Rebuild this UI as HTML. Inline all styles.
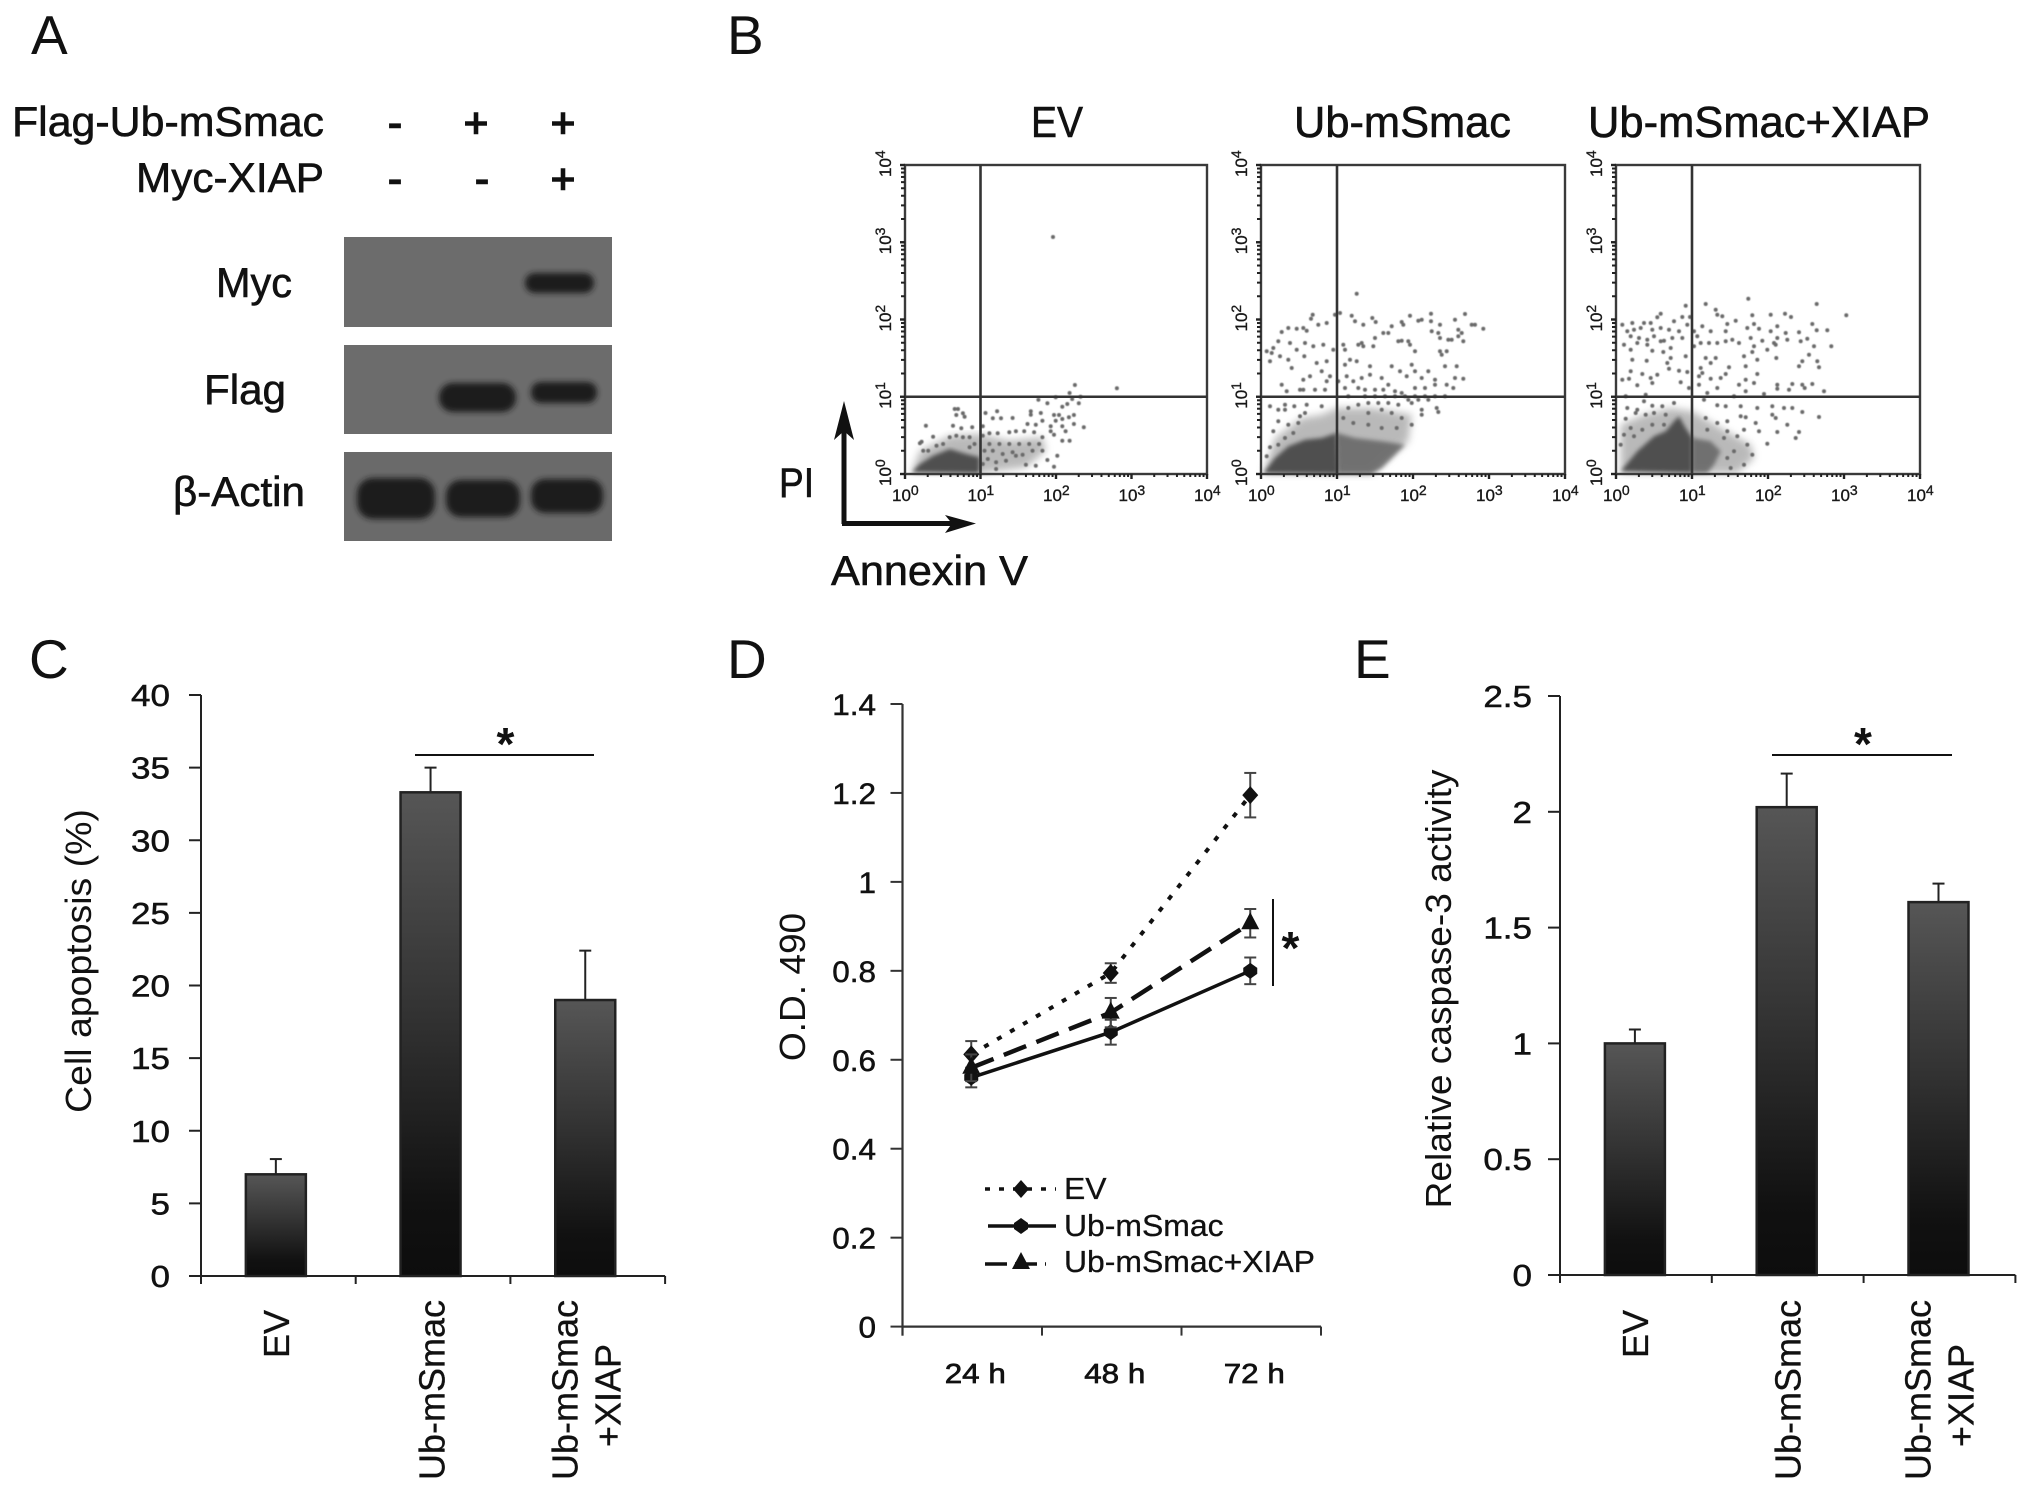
<!DOCTYPE html>
<html lang="en">
<head>
<meta charset="utf-8">
<title>Ub-mSmac apoptosis figure</title>
<style>
html,body{margin:0;padding:0;background:#fff;}
svg{display:block;font-family:"Liberation Sans",Arial,sans-serif;}
text{fill:#111;}
.hv{stroke:#111;stroke-width:.6px;}
.pm{stroke:#111;stroke-width:1.6px;}
</style>
</head>
<body>
<svg id="fig" xmlns="http://www.w3.org/2000/svg" width="2031" height="1493" viewBox="0 0 2031 1493">
<defs>
<linearGradient id="barGrad" x1="0" y1="0" x2="0" y2="1">
<stop offset="0" stop-color="#565656"/>
<stop offset="0.45" stop-color="#333333"/>
<stop offset="0.85" stop-color="#111111"/>
<stop offset="1" stop-color="#0d0d0d"/>
</linearGradient>
<filter id="blurBand" x="-20%" y="-40%" width="140%" height="180%"><feGaussianBlur stdDeviation="2.8"/></filter>
<filter id="blurSoft" x="-10%" y="-10%" width="120%" height="120%"><feGaussianBlur stdDeviation="2.2"/></filter>
<filter id="blurMid" x="-10%" y="-10%" width="120%" height="120%"><feGaussianBlur stdDeviation="4"/></filter>
<filter id="blurDot" x="-5%" y="-5%" width="110%" height="110%"><feGaussianBlur stdDeviation="0.5"/></filter>
</defs>
<rect x="0" y="0" width="2031" height="1493" fill="#fff"/>

<g>
<text x="31" y="54" font-size="55">A</text>
<text class="hv" x="12" y="136" font-size="42" textLength="312" lengthAdjust="spacingAndGlyphs">Flag-Ub-mSmac</text>
<text class="hv" x="136" y="192" font-size="42" textLength="188" lengthAdjust="spacingAndGlyphs">Myc-XIAP</text>
<text class="pm" x="395" y="137" font-size="42" text-anchor="middle">-</text>
<text class="pm" x="476" y="137" font-size="42" text-anchor="middle">+</text>
<text class="pm" x="563" y="137" font-size="42" text-anchor="middle">+</text>
<text class="pm" x="395" y="193" font-size="42" text-anchor="middle">-</text>
<text class="pm" x="482" y="193" font-size="42" text-anchor="middle">-</text>
<text class="pm" x="563" y="193" font-size="42" text-anchor="middle">+</text>
<text class="hv" x="216" y="297" font-size="42" textLength="76" lengthAdjust="spacingAndGlyphs">Myc</text>
<text class="hv" x="204" y="404" font-size="42" textLength="82" lengthAdjust="spacingAndGlyphs">Flag</text>
<text class="hv" x="173" y="506" font-size="42" textLength="132" lengthAdjust="spacingAndGlyphs">β-Actin</text>
<rect x="344" y="237" width="268" height="90" fill="#6c6c6c"/>
<rect x="344" y="345" width="268" height="89" fill="#6c6c6c"/>
<rect x="344" y="452" width="268" height="89" fill="#6a6a6a"/>
<g filter="url(#blurBand)" fill="#1a1a1a">
<rect x="525" y="273" width="69" height="20" rx="10"/>
<rect x="439" y="383" width="77" height="29" rx="14"/>
<rect x="531" y="382" width="66" height="21" rx="10"/>
<rect x="357" y="478" width="78" height="41" rx="16"/>
<rect x="446" y="480" width="74" height="37" rx="15"/>
<rect x="531" y="479" width="72" height="34" rx="14"/>
</g>
</g>

<g>
<text x="727" y="54" font-size="55">B</text>
<text class="hv" x="1031" y="137" font-size="44" textLength="52" lengthAdjust="spacingAndGlyphs">EV</text>
<text class="hv" x="1294" y="137" font-size="44" textLength="217" lengthAdjust="spacingAndGlyphs">Ub-mSmac</text>
<text class="hv" x="1588" y="137" font-size="44" textLength="342" lengthAdjust="spacingAndGlyphs">Ub-mSmac+XIAP</text>
<text class="hv" x="779" y="497" font-size="42" textLength="35" lengthAdjust="spacingAndGlyphs">PI</text>
<text class="hv" x="831" y="585" font-size="42" textLength="197" lengthAdjust="spacingAndGlyphs">Annexin V</text>
<path d="M844 524V420" stroke="#111" stroke-width="5" fill="none"/>
<path d="M844 401L854 440L844 431L834 440Z" fill="#111"/>
<path d="M842 523.5H955" stroke="#111" stroke-width="5" fill="none"/>
<path d="M976 523.5L945 515L952 523.5L945 533Z" fill="#111"/>
</g>

<g><text x="29" y="678" font-size="55">C</text></g>
<g><text x="727" y="678" font-size="55">D</text></g>
<g><text x="1354" y="678" font-size="55">E</text></g>
</svg>

<script>
// ---------- chart data ----------
const barCategories = ["EV", "Ub-mSmac", "Ub-mSmac+XIAP"];
const apoptosisValues = [7.0, 33.3, 19.0];
const apoptosisErrors = [1.05, 1.7, 3.4];
const apoptosisTicks = [0, 5, 10, 15, 20, 25, 30, 35, 40];
const caspaseValues = [1.0, 2.02, 1.61];
const caspaseErrors = [0.06, 0.145, 0.08];
const caspaseTicks = [0, 0.5, 1, 1.5, 2, 2.5];
const timeLabels = ["24 h", "48 h", "72 h"];
const odTicks = [0, 0.2, 0.4, 0.6, 0.8, 1, 1.2, 1.4];
const odEV = [0.612, 0.795, 1.195];
const odEVErr = [0.03, 0.022, 0.05];
const odUb = [0.56, 0.662, 0.80];
const odUbErr = [0.022, 0.028, 0.03];
const odXIAP = [0.582, 0.706, 0.907];
const odXIAPErr = [0.03, 0.033, 0.032];
const flowDecades = [0, 1, 2, 3, 4];

// Flow cytometry events in instrument channels [annexin, PI]
const flowEV = [[447,711],[513,267],[497,243],[640,257],[530,232],[455,230],[403,223],[430,212],[475,202],[490,210],[525,212],[505,225],[380,188],[380,178],[410,183],[325,168],[290,167],[265,167],[278,188],[243,183],[150,195],[160,195],[175,182],[180,172],[155,177],[63,145],[145,145],[170,137],[203,140],[235,143],[85,112],[50,97],[45,92],[450,177],[465,177],[475,165],[495,170],[510,177],[455,160],[415,160],[395,148],[370,150],[440,143],[475,143],[510,150],[540,140],[485,128],[440,128],[450,118],[475,100],[497,100],[415,110],[390,125],[360,128],[335,128],[315,125],[280,122],[255,122],[235,115],[405,90],[375,90],[345,90],[315,90],[285,90],[255,90],[415,70],[385,70],[355,58],[325,65],[295,60],[265,70],[240,70],[460,55],[430,42],[450,22],[395,25],[365,28],[335,55],[305,40],[275,35],[250,45],[235,30],[275,15],[195,110],[175,110],[155,115],[135,110],[115,90],[95,85],[70,70],[55,70],[195,80],[210,90]];
const flowUb = [[287,541],[612,480],[510,481],[447,475],[582,463],[155,478],[150,466],[82,438],[62,426],[107,436],[127,438],[137,430],[172,448],[197,453],[222,478],[237,483],[272,475],[282,458],[307,448],[334,468],[344,456],[392,443],[422,456],[427,448],[472,460],[482,463],[510,458],[537,448],[632,448],[642,448],[667,436],[592,433],[602,423],[512,428],[532,423],[537,408],[562,403],[572,403],[607,398],[592,413],[422,400],[412,398],[442,398],[447,388],[382,423],[367,423],[342,408],[337,383],[302,393],[292,388],[307,383],[247,388],[252,373],[217,373],[187,388],[157,383],[132,393],[107,373],[87,393],[52,398],[37,378],[17,368],[32,363],[27,338],[57,353],[82,343],[92,318],[130,353],[167,333],[197,338],[182,308],[127,283],[147,293],[207,293],[197,278],[62,268],[117,253],[127,253],[162,253],[192,253],[77,248],[252,328],[267,343],[287,338],[327,323],[257,293],[277,278],[302,288],[327,298],[362,288],[382,268],[392,323],[417,308],[452,328],[462,308],[502,308],[552,323],[587,323],[462,368],[537,368],[557,368],[542,358],[482,288],[522,283],[557,268],[582,288],[607,286],[577,258],[437,293],[402,248],[422,243],[462,258],[492,258],[522,268],[292,258],[312,253],[342,253],[367,253],[252,258],[232,278],[27,203],[52,193],[72,208],[100,203],[72,193],[137,208],[182,203],[117,173],[132,183],[52,158],[82,148],[112,153],[37,128],[72,108],[97,123],[27,80],[52,88],[17,53],[527,198],[532,186],[482,193],[452,213],[412,208],[482,178],[422,168],[452,148],[262,198],[292,208],[322,183],[362,193],[392,183],[247,168],[277,153],[322,148],[362,138],[407,138],[312,233],[342,233],[372,233],[402,233],[432,233],[462,233],[492,233],[522,233],[552,233],[262,233],[442,223],[472,223],[502,223],[382,213],[352,213],[322,213]];
const flowXIAP = [[397,526],[602,510],[209,505],[269,510],[691,476],[299,493],[304,478],[134,481],[124,470],[199,471],[222,471],[319,473],[359,460],[409,476],[464,478],[507,481],[525,471],[589,450],[414,450],[334,450],[174,458],[49,453],[19,448],[84,453],[104,453],[484,443],[429,436],[394,438],[602,431],[634,431],[549,425],[509,423],[464,428],[54,433],[74,438],[109,433],[134,438],[159,433],[189,428],[214,448],[234,428],[259,443],[284,428],[329,428],[34,428],[44,413],[69,408],[94,403],[114,413],[144,400],[169,408],[199,408],[244,413],[254,393],[279,393],[304,393],[329,398],[349,403],[369,393],[404,408],[439,400],[474,393],[484,408],[514,403],[554,398],[574,406],[594,383],[24,388],[64,393],[94,388],[134,398],[164,378],[234,383],[414,383],[454,373],[479,388],[579,358],[646,383],[109,370],[142,366],[44,373],[409,366],[384,353],[424,343],[481,348],[604,338],[559,338],[49,343],[92,340],[164,348],[154,333],[209,353],[269,348],[299,348],[549,323],[609,320],[284,333],[254,318],[389,323],[339,320],[329,300],[79,300],[159,316],[189,310],[214,306],[259,303],[44,308],[424,300],[19,283],[39,286],[104,288],[124,298],[109,273],[194,275],[284,286],[314,288],[249,293],[249,268],[389,283],[414,273],[369,268],[64,266],[219,258],[484,268],[529,270],[559,268],[589,270],[484,256],[519,253],[566,258],[624,248],[444,240],[304,258],[274,243],[389,248],[354,233],[89,238],[29,233],[34,198],[64,193],[109,205],[139,203],[174,213],[84,218],[264,223],[304,206],[329,203],[374,203],[424,198],[469,203],[504,198],[529,198],[559,186],[469,178],[479,168],[609,171],[514,148],[549,126],[539,108],[484,126],[429,128],[454,91],[419,153],[389,170],[374,173],[334,158],[304,153],[269,168],[29,166],[59,183],[89,178],[114,183],[149,178],[44,138],[79,133],[109,148],[144,148],[274,133],[334,128],[384,133],[24,118],[54,113],[14,88],[324,108],[364,113],[394,88],[409,58],[354,68],[384,28],[344,18],[334,48]];
// Density outlines of the populations too crowded to resolve as events
const coreEV = [[20,5],[45,30],[85,55],[135,75],[185,60],[225,50],[225,2]];
const midEV = [[45,70],[135,115],[225,120],[315,100],[415,110],[425,70],[365,20],[225,2],[20,5]];
const coreUb = [[7,3],[42,48],[82,83],[132,103],[182,108],[227,123],[232,0]];
const secondUb = [[227,123],[282,108],[362,98],[432,88],[402,58],[362,18],[332,0],[232,0]];
const midUb = [[42,108],[122,168],[182,178],[227,198],[332,198],[452,178],[442,98],[332,0],[7,3]];
const coreXIAP = [[14,8],[64,68],[114,113],[149,128],[174,158],[189,173],[209,138],[229,108],[229,3]];
const secondXIAP = [[229,108],[284,98],[314,68],[294,28],[274,3],[229,3]];
const midXIAP = [[14,148],[84,178],[164,198],[229,188],[314,138],[404,88],[414,48],[364,3],[14,3]];

// ---------- helpers ----------
const NS = "http://www.w3.org/2000/svg";
const fig = document.getElementById("fig");
function mk(tag, parent, attrs, name, interactable) {
  const el = document.createElementNS(NS, tag);
  for (const k in attrs) el.setAttribute(k, attrs[k]);
  
  
  parent.appendChild(el);
  return el;
}
function line(p, x1, y1, x2, y2, name, color, w, dash) {
  const a = {x1, y1, x2, y2, stroke: color || "#222", "stroke-width": w || 2};
  if (dash) a["stroke-dasharray"] = dash;
  return mk("line", p, a, name);
}
function label(p, x, y, str, size, anchor, sx, rot, name, heavy) {
  const el = mk("text", p, {
    transform: "translate(" + x + " " + y + ") rotate(" + (rot || 0) + ") scale(" + (sx || 1) + " 1)",
    "font-size": size, "text-anchor": anchor || "start"
  }, name);
  if (heavy) {
    el.setAttribute("stroke", "#111");
    el.setAttribute("stroke-width", heavy);
  }
  el.textContent = str;
  return el;
}

// ---------- flow plots ----------
const CH_X = 912, CH_Y = 927;
function flowPlot(id, left, right, top, bottom, events, core, second, mid) {
  const g = mk("g", fig, {}, id + "-flow-plot");
  const sx = ch => left + ch / CH_X * (right - left);
  const sy = ch => bottom - ch / CH_Y * (bottom - top);
  const dx = d => left + d / 4 * (right - left);
  const dy = d => bottom - d / 4 * (bottom - top);
  const pts = arr => arr.map(q => sx(q[0]).toFixed(1) + "," + sy(q[1]).toFixed(1)).join(" ");
  mk("polygon", g, {points: pts(mid), fill: "#8c8c8c", opacity: 0.6, filter: "url(#blurMid)"}, id + "-sparse-population");
  if (second) mk("polygon", g, {points: pts(second), fill: "#5e5e5e", opacity: 0.8, filter: "url(#blurSoft)"}, id + "-annexin-population");
  mk("polygon", g, {points: pts(core), fill: "#505050", filter: "url(#blurSoft)"}, id + "-live-population");
  const dots = mk("g", g, {filter: "url(#blurDot)"}, id + "-events");
  events.forEach(function (e) {
    mk("circle", dots, {cx: sx(e[0]).toFixed(1), cy: sy(e[1]).toFixed(1), r: 2, fill: "#6a6a6a"}, id + "-event");
  });
  mk("rect", g, {x: left, y: top, width: right - left, height: bottom - top, fill: "none", stroke: "#3a3a3a", "stroke-width": 2.4}, id + "-plot-frame");
  line(g, dx(1), top, dx(1), bottom, id + "-annexin-gate", "#333", 2.6);
  line(g, left, dy(1), right, dy(1), id + "-pi-gate", "#333", 2.6);
  flowDecades.forEach(function (d) {
    line(g, dx(d), bottom, dx(d), bottom + 5, id + "-x-major-tick", "#222", 2.4);
    line(g, left, dy(d), left - 5, dy(d), id + "-y-major-tick", "#222", 2.4);
    if (d < 4) {
      for (let k = 2; k < 10; k++) {
        const off = Math.log10(k);
        line(g, dx(d + off), bottom, dx(d + off), bottom + 3, id + "-x-minor-tick", "#222", 2);
        line(g, left, dy(d + off), left - 4, dy(d + off), id + "-y-minor-tick", "#222", 2);
      }
    }
    const xl = mk("text", g, {x: dx(d) - 13, y: 501, "font-size": 17, fill: "#333", stroke: "#333", "stroke-width": 0.4}, id + "-x-tick-label");
    xl.textContent = "10";
    const xs = mk("tspan", xl, {dy: -6, "font-size": 14}, id + "-x-tick-exponent");
    xs.textContent = String(d);
    const yl = mk("text", g, {transform: "translate(" + (left - 14) + " " + (dy(d) + 12) + ") rotate(-90)", "font-size": 17, fill: "#333", stroke: "#333", "stroke-width": 0.4}, id + "-y-tick-label");
    yl.textContent = "10";
    const ys = mk("tspan", yl, {dy: -6, "font-size": 14}, id + "-y-tick-exponent");
    ys.textContent = String(d);
  });
}
flowPlot("ev", 905, 1207, 165, 474, flowEV, coreEV, null, midEV);
flowPlot("ub-msmac", 1261, 1565, 165, 474, flowUb, coreUb, secondUb, midUb);
flowPlot("ub-msmac-xiap", 1616, 1920, 165, 474, flowXIAP, coreXIAP, secondXIAP, midXIAP);

// ---------- bar charts ----------
function barChart(o) {
  const g = mk("g", fig, {}, o.id + "-bar-chart");
  const y = v => o.y0 - v / o.max * (o.y0 - o.yTop);
  const cx = i => o.x0 + o.band * (i + 0.5) + o.shift;
  line(g, o.x0, o.yTop, o.x0, o.y0 + 8, o.id + "-y-axis", "#222", 2);
  line(g, o.x0, o.y0, o.x0 + o.band * o.values.length, o.y0, o.id + "-x-axis", "#222", 2);
  o.ticks.forEach(function (t) {
    line(g, o.x0 - 12, y(t), o.x0, y(t), o.id + "-y-tick", "#222", 2);
    label(g, o.labelRight, y(t) + 11, String(t), 31, "end", 1.13, 0, o.id + "-y-tick-label", 0.5);
  });
  for (let i = 0; i <= o.values.length; i++) {
    line(g, o.x0 + o.band * i, o.y0, o.x0 + o.band * i, o.y0 + 8, o.id + "-x-tick", "#222", 2);
  }
  o.values.forEach(function (v, i) {
    const c = cx(i), top = y(v), errTop = y(v + o.errors[i]);
    line(g, c, top, c, errTop, o.id + "-error-bar", "#222", 2);
    line(g, c - 6, errTop, c + 6, errTop, o.id + "-error-cap", "#222", 2);
    mk("rect", g, {x: c - 30, y: top, width: 60, height: o.y0 - top, fill: "url(#barGrad)", stroke: "#222", "stroke-width": 2.5}, o.id + "-bar-" + barCategories[i].toLowerCase().replace(/\+/g, "-"));
  });
  // rotated category labels
  label(g, cx(0) + 13, 1310, "EV", 36, "end", 1, -90, o.id + "-x-label-ev", 0.3);
  label(g, cx(1) + 14, 1300, "Ub-mSmac", 36, "end", 1.0, -90, o.id + "-x-label-ub-msmac", 0.3);
  label(g, cx(2) - 8, 1300, "Ub-mSmac", 36, "end", 1.0, -90, o.id + "-x-label-ub-msmac-xiap-line1", 0.3);
  label(g, cx(2) + 35, 1344, "+XIAP", 36, "end", 1.0, -90, o.id + "-x-label-ub-msmac-xiap-line2", 0.3);
  // significance
  line(g, o.sig[0], 755, o.sig[1], 755, o.id + "-significance-line", "#111", 2);
  label(g, (o.sig[0] + o.sig[1]) / 2 + 1, 760, "*", 46, "middle", 1, 0, o.id + "-significance-star").setAttribute("font-weight", "bold");
  label(g, o.titleX, o.titleY, o.title, o.titleSize, "middle", o.titleSx, -90, o.id + "-y-axis-title");
}
barChart({id: "apoptosis", x0: 201, y0: 1276, yTop: 695, max: 40, band: 154.7, shift: -2.5,
  values: apoptosisValues, errors: apoptosisErrors, ticks: apoptosisTicks, labelRight: 170,
  sig: [415, 594], title: "Cell apoptosis (%)", titleX: 91, titleY: 961, titleSize: 36, titleSx: 1.04});
barChart({id: "caspase", x0: 1560, y0: 1275, yTop: 696, max: 2.5, band: 151.8, shift: -1,
  values: caspaseValues, errors: caspaseErrors, ticks: caspaseTicks, labelRight: 1532,
  sig: [1772, 1952], title: "Relative caspase-3 activity", titleX: 1451, titleY: 989, titleSize: 36, titleSx: 1.03});

// ---------- line chart ----------
(function () {
  const g = mk("g", fig, {}, "growth-line-chart");
  const x0 = 902.5, y0 = 1326.6, yTop = 704, maxV = 1.4, band = 139.5;
  const y = v => y0 - v / maxV * (y0 - yTop);
  const x = i => x0 + band * (i + 0.5) - 1;
  line(g, x0, yTop, x0, y0 + 9, "od-y-axis", "#333", 2.2);
  line(g, x0, y0, x0 + band * timeLabels.length, y0, "time-x-axis", "#333", 2.2);
  odTicks.forEach(function (t) {
    line(g, x0 - 12, y(t), x0, y(t), "od-y-tick", "#333", 2);
    label(g, 876, y(t) + 11, String(t), 30, "end", 1.05, 0, "od-y-tick-label", 0.5);
  });
  for (let i = 0; i <= timeLabels.length; i++) {
    line(g, x0 + band * i, y0, x0 + band * i, y0 + 9, "time-x-tick", "#333", 2);
  }
  timeLabels.forEach(function (t, i) {
    label(g, x(i) + 4, 1383, t, 28, "middle", 1.12, 0, "time-x-tick-label", 0.7);
  });
  label(g, 805, 987, "O.D. 490", 36, "middle", 1.03, -90, "od-y-axis-title");

  function marker(parent, kind, cx, cy, name) {
    if (kind === "diamond") mk("polygon", parent, {points: [cx, cy - 9, cx + 8, cy, cx, cy + 9, cx - 8, cy].join(" "), fill: "#111"}, name);
    else if (kind === "circle") mk("polygon", parent, {points: [cx, cy - 8, cx + 7, cy - 3, cx + 7, cy + 3, cx, cy + 8, cx - 7, cy + 3, cx - 7, cy - 3].join(" "), fill: "#111"}, name);
    else mk("polygon", parent, {points: [cx, cy - 11, cx + 9, cy + 6, cx - 9, cy + 6].join(" "), fill: "#111"}, name);
  }
  function series(id, vals, errs, kind, width, dash) {
    const s = mk("g", g, {}, id + "-series");
    vals.forEach(function (v, i) {
      line(s, x(i), y(v + errs[i]), x(i), y(v - errs[i]), id + "-error-bar", "#444", 2);
      line(s, x(i) - 6, y(v + errs[i]), x(i) + 6, y(v + errs[i]), id + "-error-cap", "#444", 2);
      line(s, x(i) - 6, y(v - errs[i]), x(i) + 6, y(v - errs[i]), id + "-error-cap", "#444", 2);
    });
    const a = {points: vals.map((v, i) => x(i) + "," + y(v)).join(" "), fill: "none", stroke: "#111", "stroke-width": width};
    if (dash) a["stroke-dasharray"] = dash;
    mk("polyline", s, a, id + "-line");
    vals.forEach(function (v, i) { marker(s, kind, x(i), y(v), id + "-point"); });
  }
  series("ev", odEV, odEVErr, "diamond", 4, "5 10");
  series("ub-msmac", odUb, odUbErr, "circle", 3.5, null);
  series("ub-msmac-xiap", odXIAP, odXIAPErr, "triangle", 4.5, "24 11");

  line(g, 1273, 899, 1273, 986, "growth-significance-line", "#111", 2);
  label(g, 1290.5, 964, "*", 46, "middle", 1, 0, "growth-significance-star").setAttribute("font-weight", "bold");

  const lg = mk("g", g, {}, "growth-legend");
  line(lg, 985, 1189, 1056, 1189, "legend-ev-line", "#111", 3.5, "5 9");
  marker(lg, "diamond", 1021, 1189, "legend-ev-marker");
  label(lg, 1064, 1199, "EV", 31, "start", 1.03, 0, "legend-ev-label", 0.3);
  line(lg, 988, 1226, 1056, 1226, "legend-ub-msmac-line", "#111", 3.5);
  marker(lg, "circle", 1021, 1226, "legend-ub-msmac-marker");
  label(lg, 1064, 1236, "Ub-mSmac", 31, "start", 1.03, 0, "legend-ub-msmac-label", 0.3);
  line(lg, 985, 1264, 1046, 1264, "legend-ub-msmac-xiap-line", "#111", 3.5, "22 8");
  marker(lg, "triangle", 1021, 1263, "legend-ub-msmac-xiap-marker");
  label(lg, 1064, 1272, "Ub-mSmac+XIAP", 31, "start", 1.03, 0, "legend-ub-msmac-xiap-label", 0.3);
})();
</script>
</body>
</html>
